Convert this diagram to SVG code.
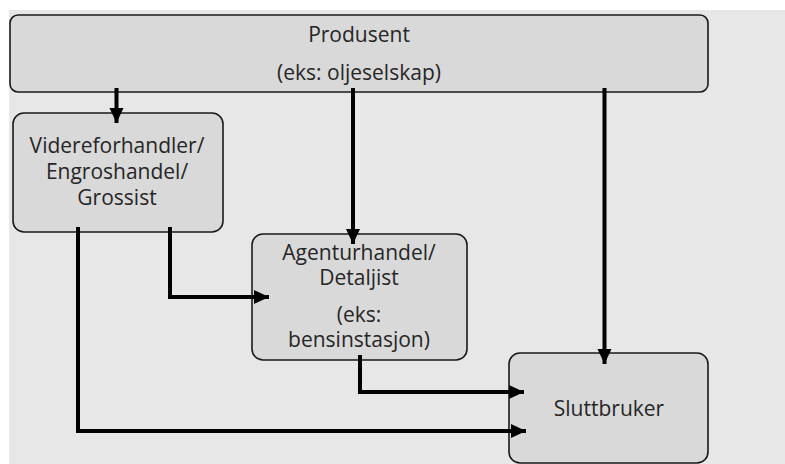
<svg xmlns="http://www.w3.org/2000/svg" width="785" height="464" viewBox="0 0 785 464">
<defs>
<style>
.box{fill:#d9d9d9;stroke:#1a1a1a;stroke-width:1.6}
.t{font-family:"Open Sans","Liberation Sans",sans-serif;font-size:21px;fill:#262626;text-anchor:middle}
.c{fill:none;stroke:#000;stroke-width:4;stroke-linejoin:miter}
</style>
<marker id="ah" markerUnits="userSpaceOnUse" markerWidth="16" markerHeight="16" viewBox="0 0 16 16" refX="15" refY="8" orient="auto">
<path d="M0,1 L15,8 L0,15 Z" fill="#000"/>
</marker>
</defs>
<rect x="0" y="0" width="785" height="464" fill="#ffffff"/>
<rect x="9" y="10" width="776" height="454" fill="#e7e7e7"/>
<g id="produsent">
<rect class="box" x="10" y="15" width="698" height="77" rx="8"/>
<text class="t" x="359" y="42">Produsent</text>
<text class="t" x="359" y="80">(eks: oljeselskap)</text>
</g>
<g id="videreforhandler">
<rect class="box" x="13" y="113" width="210" height="119" rx="11"/>
<text class="t" x="117" y="153">Videreforhandler/</text>
<text class="t" x="117" y="179">Engroshandel/</text>
<text class="t" x="117" y="205">Grossist</text>
</g>
<g id="agenturhandel">
<rect class="box" x="252" y="234" width="215" height="126" rx="11"/>
<text class="t" x="359" y="260">Agenturhandel/</text>
<text class="t" x="359" y="285">Detaljist</text>
<text class="t" x="359" y="322">(eks:</text>
<text class="t" x="359" y="347">bensinstasjon)</text>
</g>
<g id="sluttbruker">
<rect class="box" x="509" y="353" width="199" height="110" rx="11"/>
<text class="t" x="609" y="416">Sluttbruker</text>
</g>
<g id="connectors">
<path class="c" d="M116.5,88 V123" marker-end="url(#ah)"/>
<path class="c" d="M353,88 V244" marker-end="url(#ah)"/>
<path class="c" d="M604.5,88 V364" marker-end="url(#ah)"/>
<path class="c" d="M170,227 V297 H269" marker-end="url(#ah)"/>
<path class="c" d="M78,227 V431 H526" marker-end="url(#ah)"/>
<path class="c" d="M360,355 V392 H524" marker-end="url(#ah)"/>
</g>
</svg>
